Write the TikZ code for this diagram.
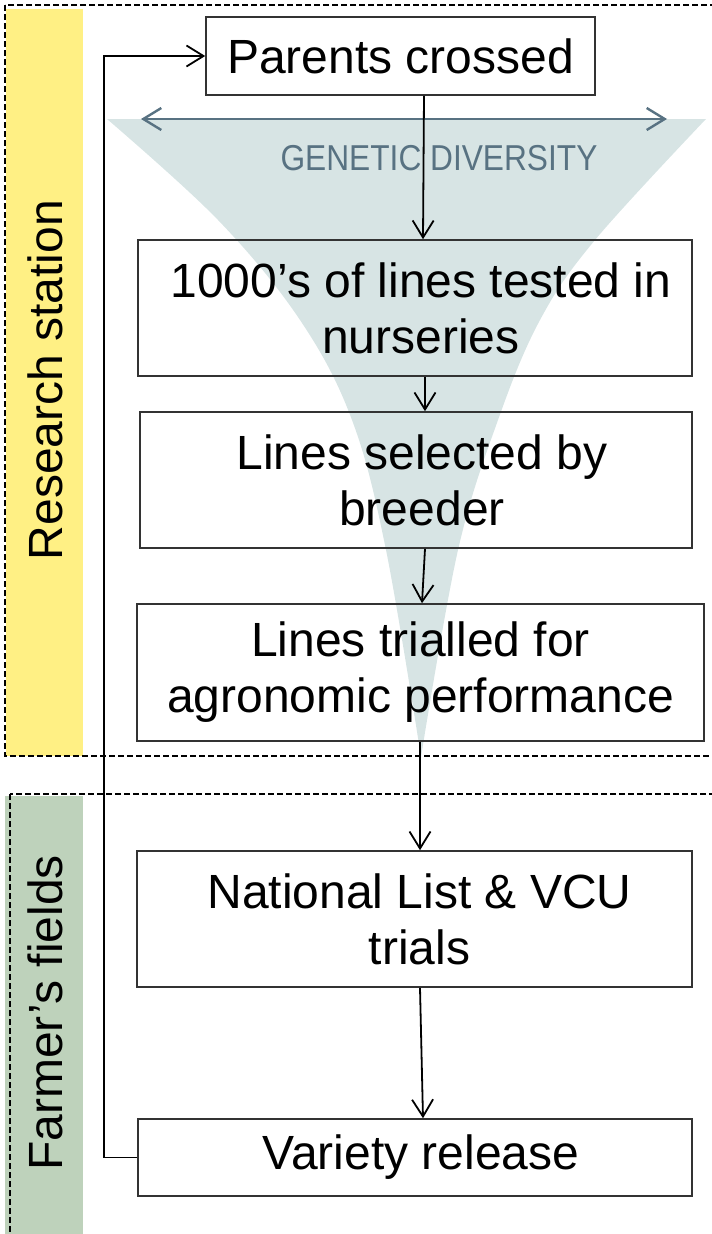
\documentclass[tikz,border=0pt]{standalone}
\usepackage{fontspec}
\setmainfont{Liberation Sans}
\usetikzlibrary{arrows.meta}
\usetikzlibrary{positioning, backgrounds}
\usepackage{xcolor}
\definecolor{myyellow}{HTML}{FFF084}
\definecolor{mygreen}{HTML}{BED2BB}
\definecolor{myfunnel}{HTML}{D7E4E4}
\definecolor{myslate}{HTML}{587282}
\colorlet{myframe}{black!80}
\tikzset{
  >={Straight Barb[length=17pt,width=21pt]}, % open v heads
  stage/.style={draw=myframe,line width=1.6pt,inner sep=0pt,align=center,font=\fontsize{48}{56}\selectfont},
  flow/.style={->,line width=1.8pt,black},
  region/.style={draw=black,line width=1.7pt,dash pattern=on 6pt off 3pt},
  sidebar/.style={rotate=90,inner sep=0pt,font=\fontsize{48}{56}\selectfont},
  diversity/.style={{Straight Barb[length=18pt,width=22pt]}-{Straight Barb[length=18pt,width=22pt]},line width=2.4pt,myslate}
}

\begin{document}
\begin{tikzpicture}[x=1pt,y=-1pt]
  \useasboundingbox (0,0) rectangle (712,1234);

  % --- REGIONS: research station / farmer's fields ---
  \fill[myyellow] (6,9) rectangle (83,756);
  \fill[mygreen] (5,796) rectangle (83,1240);
  \draw[region] (5,5) rectangle (730,756);
  \draw[region] (10,794) rectangle (730,1250);

  \node[sidebar] (station) at (45,380) {Research station};
  \node[sidebar] (farm) at (45,1013) {Farmer’s fields};

  % --- FUNNEL of genetic diversity ---
  \fill[myfunnel] plot[smooth, tension=0.6] coordinates {(107,119) (218,220) (300,320) (352,420) (386,550) (421,757)}
    -- plot[smooth, tension=0.6] coordinates {(421,757) (458,550) (498,420) (540,320) (595,240) (706,119)} -- cycle;
  \coordinate (div-l) at (141,119);
  \coordinate (div-r) at (667,119);
  \draw[diversity] (div-l) -- (div-r);
  \node[myslate, font=\fontsize{36}{40}\selectfont, xscale=0.88] (div-label) at (439,158) {GENETIC DIVERSITY};

  % --- STAGES ---
  \node[stage, minimum width=389, minimum height=78] (parents) at (400.5,56) {Parents crossed};
  \node[stage, minimum width=554, minimum height=136] (nursery) at (415,308) {\hspace*{12pt}1000’s of lines tested in\\\hspace*{12pt}nurseries};
  \node[stage, minimum width=552, minimum height=136] (selected) at (416,480) {\hspace*{12pt}Lines selected by\\\hspace*{12pt}breeder};
  \node[stage, minimum width=567, minimum height=137] (trialled) at (420.5,672.5) {Lines trialled for\\agronomic performance};
  \node[stage, minimum width=555, minimum height=136] (vcu) at (414.5,919) {\hspace*{10pt}National List \& VCU\\\hspace*{10pt}trials};
  \node[stage, minimum width=554, minimum height=77] (release) at (415,1157.5) {\hspace*{12pt}Variety release};

  % --- CONNECTIONS ---
  \draw[flow] ([xshift=23.5]parents.south) -- ([xshift=8]nursery.north);
  \draw[flow] ([xshift=10]nursery.south) -- ([xshift=9]selected.north);
  \draw[flow] ([xshift=9]selected.south) -- ([xshift=1.5]trialled.north);
  \draw[flow] ([xshift=-0.5]trialled.south) -- ([xshift=5.5]vcu.north);
  \draw[flow] ([xshift=5.5]vcu.south) -- ([xshift=8]release.north);

  % loop back from release to the crossing block
  \draw[flow] (release.west) -- ++(-33,0) |- (parents.west);

\end{tikzpicture}
\end{document}
